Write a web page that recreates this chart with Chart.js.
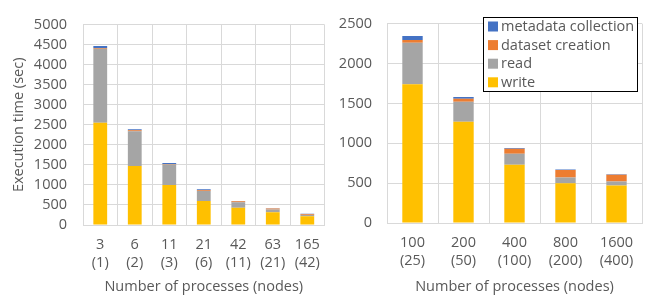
<!DOCTYPE html>
<html>
<head>
<meta charset="utf-8">
<script src="https://cdn.jsdelivr.net/npm/chart.js@4/dist/chart.umd.min.js"></script>
<style>
  html, body { margin: 0; padding: 0; background: #fff; }
  #wrap { position: relative; width: 652px; height: 302px; }
  #c1 { position: absolute; left: 0; top: 0; }
  #c2 { position: absolute; left: 330px; top: 0; }
</style>
</head>
<body>
<div id="wrap">
  <canvas id="c1" width="330" height="302"></canvas>
  <canvas id="c2" width="322" height="302"></canvas>
</div>
<script>
// ---- Data ----
const seriesNames = ['write', 'read', 'dataset creation', 'metadata collection'];
const seriesColors = ['#FFC000', '#A5A5A5', '#ED7D31', '#4472C4'];

const leftCategories = [['3', '(1)'], ['6', '(2)'], ['11', '(3)'], ['21', '(6)'], ['42', '(11)'], ['63', '(21)'], ['165', '(42)']];
const leftWrite    = [2550, 1470, 1000, 600, 430, 320, 220];
const leftRead     = [1850, 870, 510, 250, 140, 70, 30];
const leftDataset  = [20, 25, 15, 20, 20, 20, 20];
const leftMetadata = [50, 25, 25, 20, 10, 10, 10];

const rightCategories = [['100', '(25)'], ['200', '(50)'], ['400', '(100)'], ['800', '(200)'], ['1600', '(400)']];
const rightWrite    = [1740, 1270, 730, 500, 470];
const rightRead     = [520, 250, 140, 70, 50];
const rightDataset  = [35, 40, 60, 95, 85];
const rightMetadata = [50, 20, 12, 5, 5];

const xTitle = 'Number of processes (nodes)';
const yTitle = 'Execution time (sec)';

// ---- Styling ----
const FONT = "'Open Sans', 'Liberation Sans', Arial, sans-serif";
const FS = 14.5;
const TXT = '#595959';
const GRID = '#D9D9D9';

function makeDatasets(vals) {
  return vals.map((v, i) => ({
    label: seriesNames[i],
    data: v,
    backgroundColor: seriesColors[i],
    borderWidth: 0,
    categoryPercentage: 1.0,
    barPercentage: 0.4
  }));
}

const boxLegend = {
  id: 'boxLegend',
  afterDraw(chart, args, opts) {
    if (!opts || !opts.show) return;
    const ctx = chart.ctx;
    const x0 = opts.x, y0 = opts.y, w = opts.w, h = opts.h;
    ctx.save();
    ctx.fillStyle = '#fff';
    ctx.fillRect(x0, y0, w, h);
    ctx.strokeStyle = '#000';
    ctx.lineWidth = 1;
    ctx.strokeRect(x0 + 0.5, y0 + 0.5, w, h);
    const ds = chart.data.datasets.slice().reverse();
    ctx.font = FS + 'px ' + FONT;
    ctx.textBaseline = 'middle';
    ds.forEach((d, i) => {
      const cy = y0 + 9.5 + i * 18.6;
      ctx.fillStyle = d.backgroundColor;
      ctx.fillRect(x0 + 5, cy - 5, 10, 10);
      ctx.fillStyle = TXT;
      ctx.fillText(d.label, x0 + 18, cy + 0.5);
    });
    ctx.restore();
  }
};

function makeChart(id, cats, vals, opt) {
  return new Chart(document.getElementById(id), {
    type: 'bar',
    data: { labels: cats, datasets: makeDatasets(vals) },
    plugins: [boxLegend],
    options: {
      responsive: false,
      animation: false,
      devicePixelRatio: 1,
      layout: { padding: { top: opt.top, right: opt.right, left: 0, bottom: 0 } },
      plugins: {
        legend: { display: false },
        tooltip: { enabled: false },
        boxLegend: opt.legend
      },
      scales: {
        x: {
          stacked: true,
          grid: { color: GRID, lineWidth: 1, drawTicks: false, offset: true },
          border: { color: GRID },
          ticks: { color: TXT, font: { family: FONT, size: FS, lineHeight: 1.3 }, padding: 10, maxRotation: 0, autoSkip: false },
          title: { display: true, text: xTitle, color: TXT, font: { family: FONT, size: FS }, padding: { top: 0, bottom: 6 } },
          afterFit(s) { s.height = 302 - opt.bottomY; }
        },
        y: {
          stacked: true,
          min: 0, max: opt.max,
          grid: { color: GRID, lineWidth: 1, drawTicks: false },
          border: { color: GRID },
          ticks: { stepSize: opt.step, autoSkip: false, color: TXT, font: { family: FONT, size: FS }, padding: opt.tickPad, callback: v => String(v) },
          title: { display: opt.yTitle, text: yTitle, color: TXT, font: { family: FONT, size: FS }, padding: { top: 10, bottom: 0 } },
          afterFit(s) { s.width = opt.leftX; }
        }
      }
    }
  });
}

makeChart('c1', leftCategories, [leftWrite, leftRead, leftDataset, leftMetadata], {
  top: 11, right: 2, bottomY: 225, leftX: 83, max: 5000, step: 500, tickPad: 16, yTitle: true,
  legend: { show: false }
});
makeChart('c2', rightCategories, [rightWrite, rightRead, rightDataset, rightMetadata], {
  top: 10, right: 10, bottomY: 223, leftX: 57, max: 2500, step: 500, tickPad: 15, yTitle: false,
  legend: { show: true, x: 153, y: 17, w: 154, h: 74 }
});
</script>
</body>
</html>
